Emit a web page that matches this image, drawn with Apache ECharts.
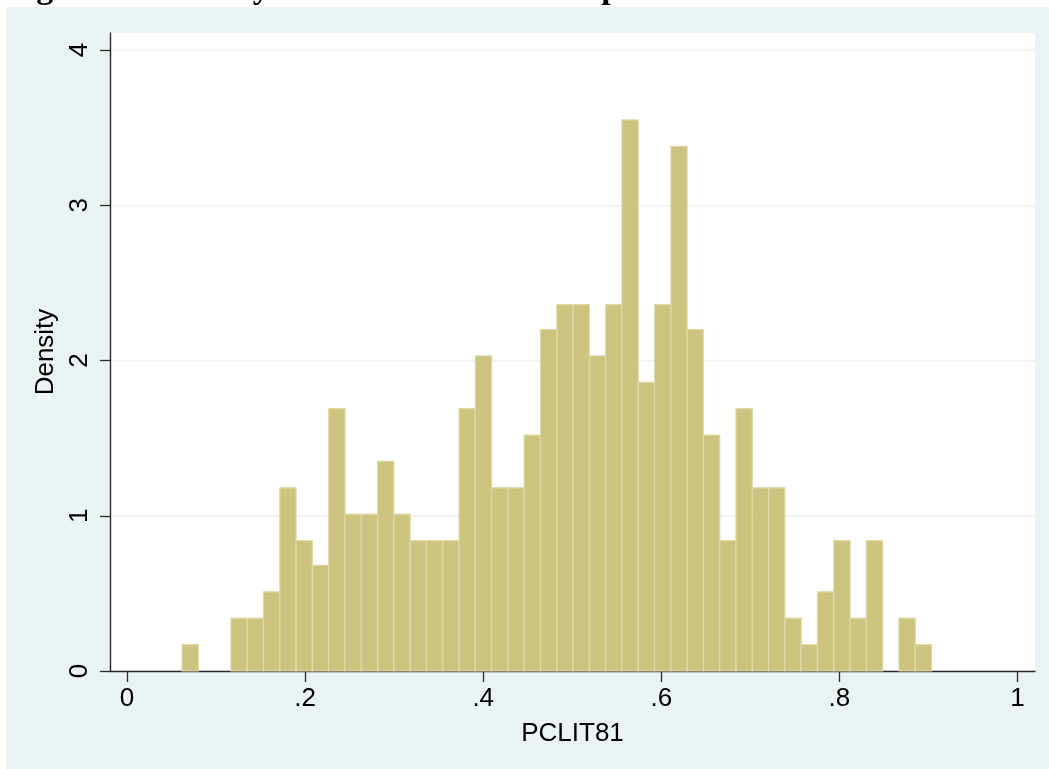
<!DOCTYPE html>
<html>
<head>
<meta charset="utf-8">
<script src="https://cdn.jsdelivr.net/npm/echarts@6/dist/echarts.min.js"></script>
<style>
html,body{margin:0;padding:0;background:#fff;}
#chart{width:1049px;height:769px;}
</style>
</head>
<body>
<div id="chart"></div>
<script>
// Histogram of PCLIT81 (density), 46 equal-width bins
const binStart = 0.0618;
const binWidth = 0.018296;
const densities = [0.17,0,0,0.34,0.34,0.51,1.18,0.84,0.68,1.69,1.01,1.01,1.35,
  1.01,0.84,0.84,0.84,1.69,2.03,1.18,1.18,1.52,2.20,
  2.36,2.36,2.03,2.36,3.55,1.86,2.36,3.38,2.20,1.52,
  0.84,1.69,1.18,1.18,0.34,0.17,0.51,0.84,0.34,0.84,
  0,0.34,0.17];
const xTicks = [0,0.2,0.4,0.6,0.8,1];
const yTicks = [0,1,2,3,4];
const titleText = 'Figure 1: Literacy in Guatemala and the parties';
const xName = 'PCLIT81';
const yName = 'Density';

const barData = [];
densities.forEach((d,i)=>{
  if (d > 0) barData.push([binStart + i*binWidth, binStart + (i+1)*binWidth, d]);
});

function fmtX(v){
  if (Math.abs(v) < 1e-9) return '0';
  if (Math.abs(v-1) < 1e-9) return '1';
  return v.toFixed(1).replace(/^0\./,'.');
}

const chart = echarts.init(document.getElementById('chart'), null, {renderer:'canvas'});
const sans = 'Liberation Sans, Arial, Helvetica, sans-serif';
chart.setOption({
  backgroundColor:'#ffffff',
  animation:false,
  graphic:{elements:[
    {type:'rect', z:-100, shape:{x:6,y:7,width:1043,height:762}, style:{fill:'#EAF2F3'}},
    {type:'text', z:100, x:6, y:-11, style:{text:titleText, fill:'#000', font:'bold 34px "Liberation Serif", "Times New Roman", serif', verticalAlign:'middle', align:'left'}}
  ]},
  grid:{left:110, right:14, top:33, bottom:98, show:true, backgroundColor:'#ffffff', borderWidth:0, containLabel:false},
  xAxis:{
    type:'value', min:-0.0191, max:1.0196,
    name:xName, nameLocation:'middle', nameGap:50,
    nameTextStyle:{fontFamily:sans, fontSize:26, color:'#000'},
    axisLine:{show:true, onZero:false, lineStyle:{color:'#2a2a2a', width:1.4}},
    axisTick:{show:true, inside:false, customValues:xTicks, length:11, lineStyle:{color:'#2a2a2a', width:1.3}},
    axisLabel:{customValues:xTicks, formatter:fmtX, fontFamily:sans, fontSize:26, color:'#000', margin:15},
    splitLine:{show:false}
  },
  yAxis:{
    type:'value', min:0, max:4.11,
    name:yName, nameLocation:'middle', nameGap:44,
    nameTextStyle:{fontFamily:sans, fontSize:26, color:'#000'},
    axisLine:{show:true, onZero:false, lineStyle:{color:'#2a2a2a', width:1.4}},
    axisTick:{show:true, inside:false, customValues:yTicks, length:10, lineStyle:{color:'#2a2a2a', width:1.3}},
    axisLabel:{customValues:yTicks, rotate:90, fontFamily:sans, fontSize:26, color:'#000', margin:17},
    splitLine:{show:true, lineStyle:{color:'#EAF2F3', width:1.5}},
    interval:1
  },
  series:[{
    type:'custom',
    data:barData,
    encode:{x:[0,1], y:2},
    renderItem:function(params, api){
      const s = api.value(0), e = api.value(1), h = api.value(2);
      const p0 = api.coord([s, h]);
      const p1 = api.coord([e, 0]);
      return {type:'rect', shape:{x:p0[0], y:p0[1], width:p1[0]-p0[0], height:p1[1]-p0[1]},
        style:{fill:'#CCC47E', stroke:'#DDD8A6', lineWidth:1.2}};
    }
  }]
});
</script>
</body>
</html>
